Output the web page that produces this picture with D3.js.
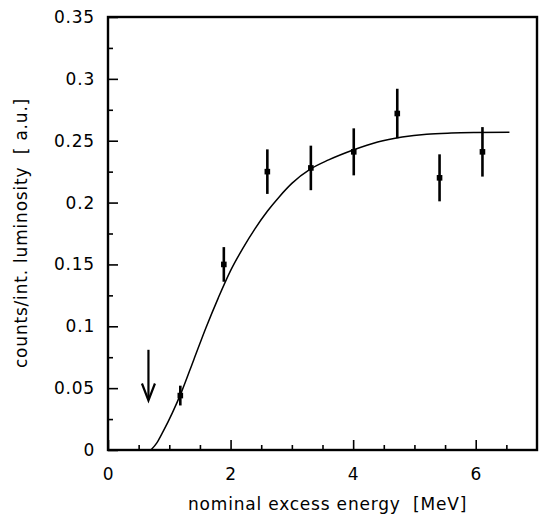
<!DOCTYPE html>
<head>
<meta charset="utf-8">
<title>Counts vs excess energy</title>
<style>
body { margin: 0; background: #fff; }
text { font-family: "DejaVu Sans", sans-serif; fill: #000; }
</style>
</head>
<body>
<svg id="chart" width="540" height="516"></svg>
<script src="https://cdn.jsdelivr.net/npm/d3@7"></script>
<script>
//---------------------------- DATA ----------------------------//
// measured points (nominal excess energy in MeV, counts / int. luminosity)
var energy = [1.18, 1.89, 2.60, 3.31, 4.01, 4.72, 5.41, 6.11];
var counts = [0.044, 0.150, 0.225, 0.228, 0.241, 0.272, 0.220, 0.241];
var errors = [0.008, 0.014, 0.018, 0.018, 0.019, 0.020, 0.019, 0.020];

// fitted curve
var curveX = [0.70, 0.80, 0.90, 1.05, 1.20, 1.40, 1.60, 1.80, 2.00, 2.20, 2.40, 2.60, 2.80, 3.00, 3.30, 3.60, 4.00, 4.40, 4.80, 5.20, 5.60, 6.00, 6.55];
var curveY = [0.000, 0.006, 0.015, 0.030, 0.047, 0.073, 0.099, 0.123, 0.145, 0.163, 0.179, 0.193, 0.205, 0.2155, 0.227, 0.2345, 0.2425, 0.249, 0.253, 0.2553, 0.2562, 0.2566, 0.2568];

// threshold arrow: x, from y, to y
var arrowX = 0.66;
var arrowY = [0.081, 0.040];

var xMajor = [0, 2, 4, 6];
var yMajor = [0, 0.05, 0.1, 0.15, 0.2, 0.25, 0.3, 0.35];
var yLabels = ["0", "0.05", "0.1", "0.15", "0.2", "0.25", "0.3", "0.35"];

//---------------------------- SVG -----------------------------//
var svg = d3.select("svg");
var margin = {top: 17, right: 3, bottom: 66, left: 108};
var width = svg.attr("width") - margin.left - margin.right;
var height = svg.attr("height") - margin.top - margin.bottom;
var g = svg.append("g").attr("transform", "translate(" + margin.left + "," + margin.top + ")");

var x = d3.scaleLinear().domain([0, 7]).range([0, width]);
var y = d3.scaleLinear().domain([0, 0.35]).range([height, 0]);

//---------------------------- AXES ----------------------------//
var xMinor = d3.range(0.5, 7, 0.5).filter(function (v) { return v % 2 != 0; });
var yMinor = d3.range(0.025, 0.35, 0.05);

function styleAxis(sel) {
    sel.select(".domain").remove();
    sel.selectAll("line").attr("stroke", "#000").attr("stroke-width", 1.6);
    sel.selectAll("text")
        .style("font-family", "'DejaVu Sans', sans-serif")
        .style("font-size", "17px")
        .style("letter-spacing", "0.8px")
        .attr("fill", "#000");
}

g.append("g")
    .attr("transform", "translate(0," + height + ")")
    .call(d3.axisBottom(x).tickValues(xMajor).tickSize(-10).tickPadding(18).tickFormat(d3.format("d")))
    .call(styleAxis);
g.append("g")
    .attr("transform", "translate(0," + height + ")")
    .call(d3.axisBottom(x).tickValues(xMinor).tickSize(-5).tickFormat(""))
    .call(styleAxis);

g.append("g")
    .call(d3.axisLeft(y).tickValues(yMajor).tickSize(-10).tickPadding(13)
        .tickFormat(function (d, i) { return yLabels[i]; }))
    .call(styleAxis);
g.append("g")
    .call(d3.axisLeft(y).tickValues(yMinor).tickSize(-5).tickFormat(""))
    .call(styleAxis);

// frame
g.append("rect")
    .attr("width", width)
    .attr("height", height)
    .attr("fill", "none")
    .attr("stroke", "#000")
    .attr("stroke-width", 2.4);

// axis titles
svg.append("text")
    .attr("x", 188)
    .attr("y", 510)
    .style("font-size", "17px")
    .style("letter-spacing", "0.8px")
    .attr("xml:space", "preserve")
    .text("nominal excess energy  [MeV]");

svg.append("text")
    .attr("transform", "translate(27,233) rotate(-90)")
    .attr("text-anchor", "middle")
    .style("font-size", "17px")
    .style("letter-spacing", "0.8px")
    .attr("xml:space", "preserve")
    .text("counts/int. luminosity  [ a.u.]");

//---------------------------- CURVE ---------------------------//
var curvePts = curveX.map(function (v, i) { return [v, curveY[i]]; });
var line = d3.line()
    .curve(d3.curveMonotoneX)
    .x(function (d) { return x(d[0]); })
    .y(function (d) { return y(d[1]); });

g.append("path")
    .datum(curvePts)
    .attr("d", line)
    .attr("fill", "none")
    .attr("stroke", "#000")
    .attr("stroke-width", 1.5);

//---------------------------- POINTS --------------------------//
var pts = energy.map(function (v, i) { return {e: v, c: counts[i], err: errors[i]}; });

var pt = g.selectAll(".pt")
    .data(pts)
    .enter().append("g")
    .attr("class", "pt");

pt.append("line")
    .attr("x1", function (d) { return x(d.e); })
    .attr("x2", function (d) { return x(d.e); })
    .attr("y1", function (d) { return y(d.c - d.err); })
    .attr("y2", function (d) { return y(d.c + d.err); })
    .attr("stroke", "#000")
    .attr("stroke-width", 2.6);

pt.append("rect")
    .attr("x", function (d) { return x(d.e) - 2.8; })
    .attr("y", function (d) { return y(d.c) - 2.8; })
    .attr("width", 5.6)
    .attr("height", 5.6)
    .attr("fill", "#000");

//---------------------------- ARROW ---------------------------//
var ax = x(arrowX), ay0 = y(arrowY[0]), ay1 = y(arrowY[1]);
g.append("line")
    .attr("x1", ax).attr("x2", ax)
    .attr("y1", ay0).attr("y2", ay1 - 1)
    .attr("stroke", "#000")
    .attr("stroke-width", 2.2);
g.append("path")
    .attr("d", "M" + (ax - 6.5) + "," + (ay1 - 17) + "L" + ax + "," + ay1 + "L" + (ax + 6.5) + "," + (ay1 - 17))
    .attr("fill", "none")
    .attr("stroke", "#000")
    .attr("stroke-width", 2.2);
</script>
</body>
